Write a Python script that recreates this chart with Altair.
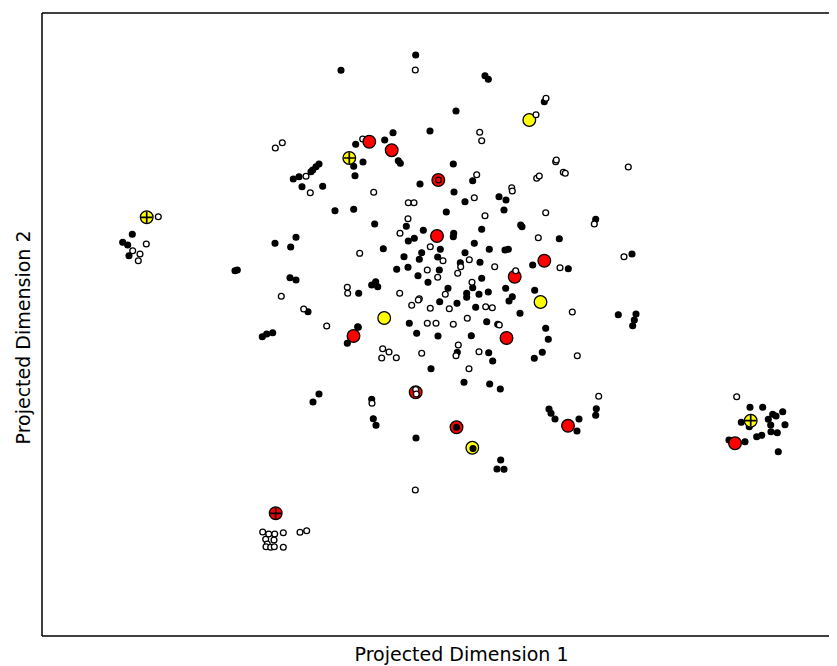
import altair as alt
import pandas as pd

# ---- data (in projected units) ----
black_x = [415.7, 341, 485, 488.3, 544.3, 456, 355.7, 384.7, 393, 398.3, 400.3, 430, 353.7, 363, 355,
           319, 316, 312.7, 311, 293.3, 299, 302, 322.7, 420, 453.3, 472.7, 454, 465, 499, 506, 446.3,
           504, 595.7, 335, 353.7, 374.7, 406.3, 423.3, 453.7, 453.3, 481.7, 408.3, 414.3, 474.3, 440.3,
           489.3, 383.3, 404, 421.7, 419.3, 437.7, 465, 460.3, 480, 396.7, 408, 439.3, 418, 481.7, 428,
           472.7, 371.7, 375.7, 377.7, 358.7, 448, 466.7, 466.7, 488.3, 479, 439.7, 457, 475.7, 357.7,
           486.7, 409.3, 497.7, 416.7, 438, 471.3, 520.7, 522, 559.3, 505, 508.3, 532.7, 568.3, 505.7,
           534.7, 512.3, 509, 520, 618.3, 636, 634.3, 632.7, 632, 545.7, 548.3,
           132.3, 122.7, 127.7, 129, 235, 237.3, 275, 290.7, 296, 290, 296, 262.3, 266.7, 272.7,
           308, 358.3, 347.3, 431, 319, 313, 371.7, 373.3, 376, 416, 542.3, 534.3, 457.3, 488.7, 492.7,
           464, 489.7, 500.3, 596.3, 595.7, 549, 551, 555, 579, 577, 500.7, 497, 504,
           750, 762.7, 782.7, 772.7, 776, 741.3, 768.3, 770.7, 785, 749.3, 771, 777.3, 756.7, 761.7,
           729, 745, 778.3]
black_y = [55, 70.3, 75.7, 79.3, 101.7, 111, 144.3, 140, 132.7, 160.7, 163.3, 131, 166.3, 162, 175.7,
           164, 166.7, 170, 171.7, 179, 176.7, 186.7, 186.3, 184, 164, 180.7, 192, 201.7, 196.7, 200, 212,
           210, 219.3, 210.7, 209.3, 224, 226.3, 230.3, 233.3, 236.7, 229.3, 241, 238.3, 243.3, 249.3,
           249.3, 248.7, 256.7, 252.7, 259.3, 257, 252.7, 262.7, 262.3, 269.3, 267.3, 270, 275.7, 278.3, 282.3,
           287.7, 285, 281.7, 286.7, 293.3, 288.3, 293.3, 297.3, 292, 294.3, 301.7, 303.3, 307.3, 326.7,
           321.7, 323.3, 324.3, 333.3, 336, 335.7, 225, 226.7, 238.7, 250, 249.3, 265, 268.7, 288.3,
           290.3, 296.7, 301, 313.3, 314.7, 314, 320, 325.7, 254, 328.3, 339.3,
           234.3, 242.3, 245, 255.7, 270.7, 270, 243.3, 247, 237.3, 277.7, 280, 336.7, 334, 332.7,
           311.7, 327.3, 343.3, 368.7, 394, 402, 399.3, 418.7, 425.3, 438, 352.3, 358.3, 352.3, 352.7, 361,
           382.3, 384, 389, 408.7, 415.3, 409, 413.3, 419, 419, 431, 460, 469, 469.3,
           407.3, 407.3, 411.7, 414.3, 416, 422.3, 419.3, 425, 424.7, 426.7, 431.7, 432.7, 436.7, 435.3,
           440, 441.7, 451.7]

white_x = [415.3, 275.3, 282.3, 362.7, 306, 310.3, 373.7, 546, 479.7, 481.7, 476.7, 474.3, 511.7,
           512.3, 536.7, 539.3, 555.7, 556.3, 563.3, 565.3, 628.3, 485, 545.7, 408.3, 414, 408, 400,
           430.3, 359.7, 443, 469.3, 460.7, 494.7, 427.3, 457.7, 437.7, 472, 347.3, 347.7, 399.7, 445.3,
           419.3, 418.3, 411.7, 430.3, 449.3, 485.7, 492.3, 467.3, 427.3, 436, 453.3, 594.3, 538.3, 560,
           572.3, 624, 499.3, 577.3,
           158.3, 146.3, 132.7, 140, 138.3, 281.3,
           303.7, 326.7, 382.7, 389, 381.7, 396.3, 421.7, 458.3, 456, 372, 415.3, 479, 469, 598.7, 736.7,
           262.7, 268.7, 274.7, 283.3, 265.7, 274, 267.3, 266, 270.7, 274.3, 283.3, 300, 306.7]
white_y = [70, 148, 142.7, 139, 176.3, 192.7, 192.3, 98.3, 132.3, 140.7, 174.7, 197.7, 187.7,
           191, 178.3, 176, 161.7, 160, 172.3, 173.3, 167, 215.7, 212.7, 202.7, 202.7, 218.7, 233.3,
           246.7, 253.3, 260.7, 259.7, 266.7, 266.7, 270, 273.3, 277.3, 282.3, 287.3, 293.3, 293.3, 294.3,
           298.7, 300, 305.3, 308.3, 308.7, 306.7, 307.7, 318.3, 323.3, 323.3, 324.3, 224, 237.7, 267.7,
           312, 256.7, 325, 355.7,
           216.7, 244, 250.7, 254, 260.7, 296.3,
           309, 326, 348.7, 352, 358, 357.7, 353.3, 345, 355.7, 403.3, 490, 351.7, 368.7, 396.3, 396.7,
           532, 534, 534, 532.7, 539.3, 540, 544, 546.7, 547.3, 546.7, 547.3, 532.3, 530.7]

red_x = [369.3, 391.7, 438.3, 437, 544.3, 514.7, 353.5, 506.5, 415.7, 456.5, 568, 735, 275.7]
red_y = [141.7, 150.3, 180, 236, 260.7, 276.7, 336, 338, 392.3, 427.3, 425.7, 443.3, 513.3]

yellow_x = [146.7, 349.3, 529.3, 384.2, 540.5, 472.3, 750.7]
yellow_y = [217.3, 158, 120, 318, 302, 447.7, 420.7]

# small points lying on top of the large markers
top_x = [515.7, 536, 438.5, 415.7, 416.3, 456.5, 473]
top_y = [270.7, 114.7, 180, 389.5, 394, 427.3, 448.5]
top_kind = ["white", "white", "hollow", "white", "white", "black", "black"]

cross_x = [146.7, 349.3, 275.7, 750.7]
cross_y = [217.3, 158, 513.3, 420.7]

fills = {"black": "black", "white": "white", "red": "#ff0000", "yellow": "#ffff00",
         "hollow": "transparent"}

W, H = 786, 623
xscale = alt.Scale(domain=[42, 828], nice=False, zero=False)
yscale = alt.Scale(domain=[13, 636], reverse=True, nice=False, zero=False)


def enc():
    return dict(
        x=alt.X("d1:Q", scale=xscale,
                axis=alt.Axis(title="Projected Dimension 1", labels=False, ticks=False,
                              domain=False, grid=False, titlePadding=9, titleX=419)),
        y=alt.Y("d2:Q", scale=yscale,
                axis=alt.Axis(title="Projected Dimension 2", labels=False, ticks=False,
                              domain=False, grid=False, titlePadding=9, titleY=324)),
    )


small = pd.concat([
    pd.DataFrame({"d1": black_x, "d2": black_y, "kind": "black"}),
    pd.DataFrame({"d1": white_x, "d2": white_y, "kind": "white"}),
], ignore_index=True)
small["fillc"] = small["kind"].map(fills)

large = pd.concat([
    pd.DataFrame({"d1": red_x, "d2": red_y, "kind": "red"}),
    pd.DataFrame({"d1": yellow_x, "d2": yellow_y, "kind": "yellow"}),
], ignore_index=True)
large["fillc"] = large["kind"].map(fills)

top = pd.DataFrame({"d1": top_x, "d2": top_y, "kind": top_kind})
top["fillc"] = top["kind"].map(fills)

cross = pd.DataFrame({"d1": cross_x, "d2": cross_y})

l_small = alt.Chart(small).mark_point(shape="circle", filled=True, size=34, stroke="black",
                                      strokeWidth=1.3, opacity=1).encode(
    fill=alt.Fill("fillc:N", scale=None), **enc())

l_large = alt.Chart(large).mark_point(shape="circle", filled=True, size=160, stroke="black",
                                      strokeWidth=1.3, opacity=1).encode(
    fill=alt.Fill("fillc:N", scale=None), **enc())

l_top = alt.Chart(top).mark_point(shape="circle", filled=True, size=34, stroke="black",
                                  strokeWidth=1.3, opacity=1).encode(
    fill=alt.Fill("fillc:N", scale=None), **enc())

l_cross = alt.Chart(cross).mark_point(shape="M-1,0L1,0M0,-1L0,1", filled=False, size=130,
                                      stroke="black", strokeWidth=1.7, opacity=1).encode(**enc())

dummy = pd.DataFrame({"a": [0]})
top_line = alt.Chart(dummy).mark_rule(color="black", strokeWidth=1.5).encode(
    x=alt.value(0), x2=alt.value(W + 2), y=alt.value(0))
left_line = alt.Chart(dummy).mark_rule(color="black", strokeWidth=1.5).encode(
    x=alt.value(0), y=alt.value(0), y2=alt.value(H))
bottom_line = alt.Chart(dummy).mark_rule(color="black", strokeWidth=1.5).encode(
    x=alt.value(0), x2=alt.value(W + 2), y=alt.value(H))

chart = alt.layer(l_small, l_large, l_top, l_cross, top_line, left_line, bottom_line).properties(
    width=W, height=H,
    autosize=alt.AutoSizeParams(type="none"),
    padding={"left": 34, "top": 5, "right": 1, "bottom": 30},
).configure_view(stroke=None).configure_axis(
    titleFont="DejaVu Sans", titleFontSize=19, titleFontWeight="normal", titleColor="black"
)

chart.save("out.html", embed_options={"renderer": "svg", "actions": False})
